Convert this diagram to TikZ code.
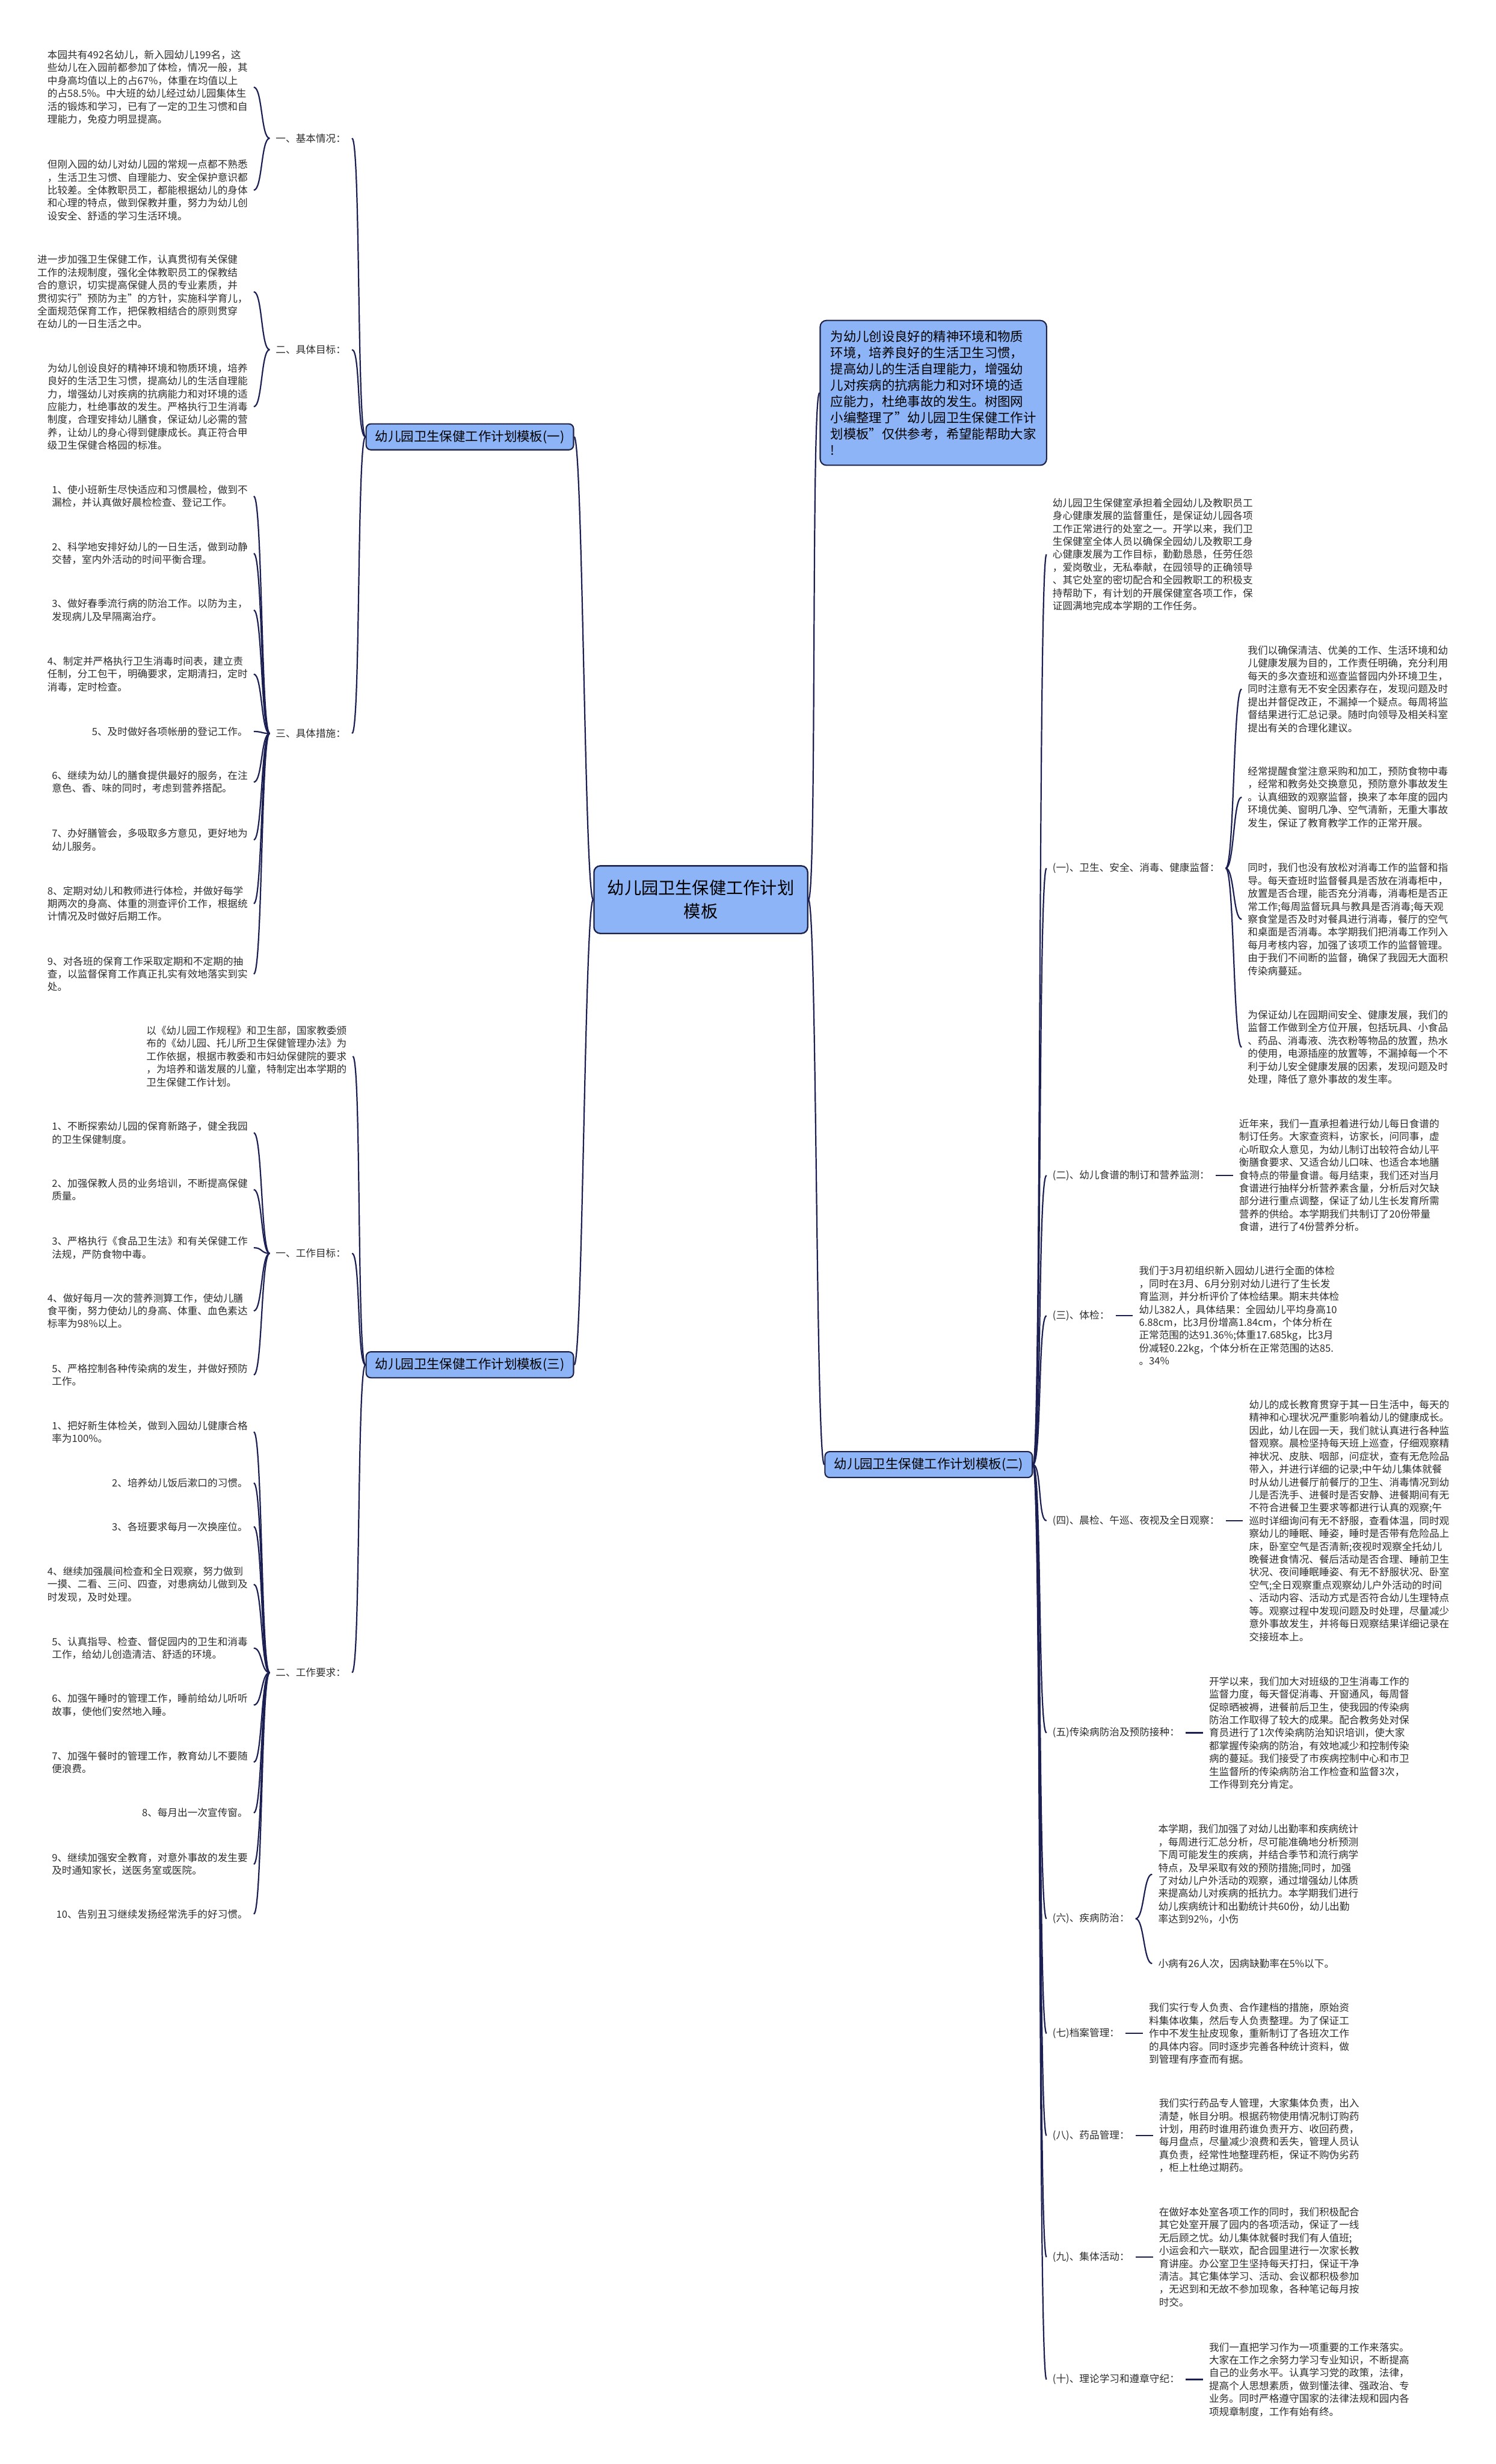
\documentclass[tikz,border=0pt]{standalone}
\usepackage{fontspec}
\setmainfont{Noto Sans CJK SC}
\usetikzlibrary{positioning}
\definecolor{linkcol}{HTML}{1B1F52}
\definecolor{boxfill}{HTML}{8DB4F7}
\definecolor{boxline}{HTML}{1E2246}
\definecolor{textcol}{HTML}{2E2E2E}
\begin{document}
\begin{tikzpicture}[
    x=1pt, y=-1pt,
    link/.style={draw=linkcol, line width=0.85pt},
    toleft/.style={out=180, in=0, distance=5.5pt},
    toright/.style={out=0, in=180, distance=5.5pt},
    rootbox/.style={draw=boxline, fill=boxfill, line width=0.9pt, rounded corners=4pt,
        minimum width=136pt, minimum height=43pt, align=center,
        font=\fontsize{10.8}{15}\selectfont},
    planbox/.style={draw=boxline, fill=boxfill, line width=0.8pt, rounded corners=3pt,
        minimum width=132pt, minimum height=16.5pt, inner sep=0pt,
        font=\fontsize{8.2}{10}\selectfont},
    introbox/.style={draw=boxline, fill=boxfill, line width=0.8pt, rounded corners=4pt,
        align=left, inner xsep=6.6pt, inner ysep=6.5pt,
        font=\fontsize{8.18}{10.3}\selectfont},
    sublabel/.style={text=textcol, inner sep=3.7pt, font=\fontsize{6.37}{8.2}\selectfont},
    lleaf/.style={sublabel, align=left, anchor=east},
    rleaf/.style={sublabel, align=left, anchor=west}
    ]

    \useasboundingbox (0,0) rectangle (952,1568);
    \fill[white] (0,0) rectangle (952,1568);

    \node[rootbox] (plan) at (446,572.5) {幼儿园卫生保健工作计划\\模板};
    \node[planbox] (plan1) at (299,278) {幼儿园卫生保健工作计划模板(一)};
    \node[planbox] (plan2) at (591,932) {幼儿园卫生保健工作计划模板(二)};
    \node[planbox] (plan3) at (299,868.5) {幼儿园卫生保健工作计划模板(三)};
    \node[introbox] (intro) at (594,250) {为幼儿创设良好的精神环境和物质\\环境，培养良好的生活卫生习惯，\\提高幼儿的生活自理能力，增强幼\\儿对疾病的抗病能力和对环境的适\\应能力，杜绝事故的发生。树图网\\小编整理了"幼儿园卫生保健工作计\\划模板"仅供参考，希望能帮助大家\\!};

    \node[sublabel, anchor=east] (basic) at (224,88) {一、基本情况：};
    \node[sublabel, anchor=east] (aims) at (224,222.5) {二、具体目标：};
    \node[sublabel, anchor=east] (steps) at (224,466.7) {三、具体措施：};

    \node[lleaf] (basic1) at (161.5,55.5) {本园共有492名幼儿，新入园幼儿199名，这\\些幼儿在入园前都参加了体检，情况一般，其\\中身高均值以上的占67\%，体重在均值以上\\的占58.5\%。中大班的幼儿经过幼儿园集体生\\活的锻炼和学习，已有了一定的卫生习惯和自\\理能力，免疫力明显提高。};
    \node[lleaf] (basic2) at (161.5,121) {但刚入园的幼儿对幼儿园的常规一点都不熟悉\\，生活卫生习惯、自理能力、安全保护意识都\\比较差。全体教职员工，都能根据幼儿的身体\\和心理的特点，做到保教并重，努力为幼儿创\\设安全、舒适的学习生活环境。};
    \node[lleaf] (aims1) at (161.5,185.7) {进一步加强卫生保健工作，认真贯彻有关保健\\工作的法规制度，强化全体教职员工的保教结\\合的意识，切实提高保健人员的专业素质，并\\贯彻实行"预防为主"的方针，实施科学育儿，\\全面规范保育工作，把保教相结合的原则贯穿\\在幼儿的一日生活之中。};
    \node[lleaf] (aims2) at (161.5,258.8) {为幼儿创设良好的精神环境和物质环境，培养\\良好的生活卫生习惯，提高幼儿的生活自理能\\力，增强幼儿对疾病的抗病能力和对环境的适\\应能力，杜绝事故的发生。严格执行卫生消毒\\制度，合理安排幼儿膳食，保证幼儿必需的营\\养，让幼儿的身心得到健康成长。真正符合甲\\级卫生保健合格园的标准。};
    \node[lleaf] (step1) at (161.5,315.8) {1、使小班新生尽快适应和习惯晨检，做到不\\漏检，并认真做好晨检检查、登记工作。};
    \node[lleaf] (step2) at (161.5,352.2) {2、科学地安排好幼儿的一日生活，做到动静\\交替，室内外活动的时间平衡合理。};
    \node[lleaf] (step3) at (161.5,388.3) {3、做好春季流行病的防治工作。以防为主，\\发现病儿及早隔离治疗。};
    \node[lleaf] (step4) at (161.5,429) {4、制定并严格执行卫生消毒时间表，建立责\\任制，分工包干，明确要求，定期清扫，定时\\消毒，定时检查。};
    \node[lleaf] (step5) at (161.5,465.5) {5、及时做好各项帐册的登记工作。};
    \node[lleaf] (step6) at (161.5,497.7) {6、继续为幼儿的膳食提供最好的服务，在注\\意色、香、味的同时，考虑到营养搭配。};
    \node[lleaf] (step7) at (161.5,534.4) {7、办好膳管会，多吸取多方意见，更好地为\\幼儿服务。};
    \node[lleaf] (step8) at (161.5,575) {8、定期对幼儿和教师进行体检，并做好每学\\期两次的身高、体重的测查评价工作，根据统\\计情况及时做好后期工作。};
    \node[lleaf] (step9) at (161.5,619.8) {9、对各班的保育工作采取定期和不定期的抽\\查，以监督保育工作真正扎实有效地落实到实\\处。};

    \node[lleaf] (basis) at (224.5,672.2) {以《幼儿园工作规程》和卫生部，国家教委颁\\布的《幼儿园、托儿所卫生保健管理办法》为\\工作依据，根据市教委和市妇幼保健院的要求\\，为培养和谐发展的儿童，特制定出本学期的\\卫生保健工作计划。};
    \node[sublabel, anchor=east] (goals) at (224,797.6) {一、工作目标：};
    \node[sublabel, anchor=east] (rules) at (224,1064.4) {二、工作要求：};

    \node[lleaf] (goal1) at (161.5,720.9) {1、不断探索幼儿园的保育新路子，健全我园\\的卫生保健制度。};
    \node[lleaf] (goal2) at (161.5,757) {2、加强保教人员的业务培训，不断提高保健\\质量。};
    \node[lleaf] (goal3) at (161.5,794) {3、严格执行《食品卫生法》和有关保健工作\\法规，严防食物中毒。};
    \node[lleaf] (goal4) at (161.5,834.2) {4、做好每月一次的营养测算工作，使幼儿膳\\食平衡，努力使幼儿的身高、体重、血色素达\\标率为98\%以上。};
    \node[lleaf] (goal5) at (161.5,874.9) {5、严格控制各种传染病的发生，并做好预防\\工作。};

    \node[lleaf] (rule1) at (161.5,911.2) {1、把好新生体检关，做到入园幼儿健康合格\\率为100\%。};
    \node[lleaf] (rule2) at (161.5,943.7) {2、培养幼儿饭后漱口的习惯。};
    \node[lleaf] (rule3) at (161.5,971.5) {3、各班要求每月一次换座位。};
    \node[lleaf] (rule4) at (161.5,1008.2) {4、继续加强晨间检查和全日观察，努力做到\\一摸、二看、三问、四查，对患病幼儿做到及\\时发现，及时处理。};
    \node[lleaf] (rule5) at (161.5,1048.8) {5、认真指导、检查、督促园内的卫生和消毒\\工作，给幼儿创造清洁、舒适的环境。};
    \node[lleaf] (rule6) at (161.5,1085) {6、加强午睡时的管理工作，睡前给幼儿听听\\故事，使他们安然地入睡。};
    \node[lleaf] (rule7) at (161.5,1121.4) {7、加强午餐时的管理工作，教育幼儿不要随\\便浪费。};
    \node[lleaf] (rule8) at (161.5,1153.6) {8、每月出一次宣传窗。};
    \node[lleaf] (rule9) at (161.5,1186.3) {9、继续加强安全教育，对意外事故的发生要\\及时通知家长，送医务室或医院。};
    \node[lleaf] (rule10) at (161.5,1218) {10、告别丑习继续发扬经常洗手的好习惯。};

    \node[rleaf] (duty) at (666,352.8) {幼儿园卫生保健室承担着全园幼儿及教职员工\\身心健康发展的监督重任，是保证幼儿园各项\\工作正常进行的处室之一。开学以来，我们卫\\生保健室全体人员以确保全园幼儿及教职工身\\心健康发展为工作目标，勤勤恳恳，任劳任怨\\，爱岗敬业，无私奉献，在园领导的正确领导\\、其它处室的密切配合和全园教职工的积极支\\持帮助下，有计划的开展保健室各项工作，保\\证圆满地完成本学期的工作任务。};

    \node[sublabel, anchor=west] (watch) at (666,552.5) {(一)、卫生、安全、消毒、健康监督：};
    \node[sublabel, anchor=west] (menu) at (666,748) {(二)、幼儿食谱的制订和营养监测：};
    \node[sublabel, anchor=west] (check) at (666,837.3) {(三)、体检：};
    \node[sublabel, anchor=west] (daily) at (666,967.7) {(四)、晨检、午巡、夜视及全日观察：};
    \node[sublabel, anchor=west] (infect) at (666,1102.7) {(五)传染病防治及预防接种：};
    \node[sublabel, anchor=west] (ill) at (666,1221) {(六)、疾病防治：};
    \node[sublabel, anchor=west] (files) at (666,1294) {(七)档案管理：};
    \node[sublabel, anchor=west] (drugs) at (666,1359) {(八)、药品管理：};
    \node[sublabel, anchor=west] (group) at (666,1436.3) {(九)、集体活动：};
    \node[sublabel, anchor=west] (study) at (666,1514.2) {(十)、理论学习和遵章守纪：};

    \node[rleaf] (watch1) at (790.2,438.5) {我们以确保清洁、优美的工作、生活环境和幼\\儿健康发展为目的，工作责任明确，充分利用\\每天的多次查班和巡查监督园内外环境卫生，\\同时注意有无不安全因素存在，发现问题及时\\提出并督促改正，不漏掉一个疑点。每周将监\\督结果进行汇总记录。随时向领导及相关科室\\提出有关的合理化建议。};
    \node[rleaf] (watch2) at (790.2,507.3) {经常提醒食堂注意采购和加工，预防食物中毒\\，经常和教务处交换意见，预防意外事故发生\\。认真细致的观察监督，换来了本年度的园内\\环境优美、窗明几净、空气清新，无重大事故\\发生，保证了教育教学工作的正常开展。};
    \node[rleaf] (watch3) at (790.2,585) {同时，我们也没有放松对消毒工作的监督和指\\导。每天查班时监督餐具是否放在消毒柜中，\\放置是否合理，能否充分消毒，消毒柜是否正\\常工作;每周监督玩具与教具是否消毒;每天观\\察食堂是否及时对餐具进行消毒，餐厅的空气\\和桌面是否消毒。本学期我们把消毒工作列入\\每月考核内容，加强了该项工作的监督管理。\\由于我们不间断的监督，确保了我园无大面积\\传染病蔓延。};
    \node[rleaf] (watch4) at (790.2,666.4) {为保证幼儿在园期间安全、健康发展，我们的\\监督工作做到全方位开展，包括玩具、小食品\\、药品、消毒液、洗衣粉等物品的放置，热水\\的使用，电源插座的放置等，不漏掉每一个不\\利于幼儿安全健康发展的因素，发现问题及时\\处理，降低了意外事故的发生率。};

    \node[rleaf, right=11pt of menu] (menu1) {近年来，我们一直承担着进行幼儿每日食谱的\\制订任务。大家查资料，访家长，问同事，虚\\心听取众人意见，为幼儿制订出较符合幼儿平\\衡膳食要求、又适合幼儿口味、也适合本地膳\\食特点的带量食谱。每月结束，我们还对当月\\食谱进行抽样分析营养素含量，分析后对欠缺\\部分进行重点调整，保证了幼儿生长发育所需\\营养的供给。本学期我们共制订了20份带量\\食谱，进行了4份营养分析。};
    \node[rleaf, right=11pt of check] (check1) {我们于3月初组织新入园幼儿进行全面的体检\\，同时在3月、6月分别对幼儿进行了生长发\\育监测，并分析评价了体检结果。期末共体检\\幼儿382人，具体结果：全园幼儿平均身高10\\6.88cm，比3月份增高1.84cm，个体分析在\\正常范围的达91.36\%;体重17.685kg，比3月\\份减轻0.22kg，个体分析在正常范围的达85.\\。34\%};
    \node[rleaf, right=11pt of daily] (daily1) {幼儿的成长教育贯穿于其一日生活中，每天的\\精神和心理状况严重影响着幼儿的健康成长。\\因此，幼儿在园一天，我们就认真进行各种监\\督观察。晨检坚持每天班上巡查，仔细观察精\\神状况、皮肤、咽部，问症状，查有无危险品\\带入，并进行详细的记录;中午幼儿集体就餐\\时从幼儿进餐厅前餐厅的卫生、消毒情况到幼\\儿是否洗手、进餐时是否安静、进餐期间有无\\不符合进餐卫生要求等都进行认真的观察;午\\巡时详细询问有无不舒服，查看体温，同时观\\察幼儿的睡眠、睡姿，睡时是否带有危险品上\\床，卧室空气是否清新;夜视时观察全托幼儿\\晚餐进食情况、餐后活动是否合理、睡前卫生\\状况、夜间睡眠睡姿、有无不舒服状况、卧室\\空气;全日观察重点观察幼儿户外活动的时间\\、活动内容、活动方式是否符合幼儿生理特点\\等。观察过程中发现问题及时处理，尽量减少\\意外事故发生，并将每日观察结果详细记录在\\交接班本上。};
    \node[rleaf, right=11pt of infect] (infect1) {开学以来，我们加大对班级的卫生消毒工作的\\监督力度，每天督促消毒、开窗通风，每周督\\促晾晒被褥，进餐前后卫生，使我园的传染病\\防治工作取得了较大的成果。配合教务处对保\\育员进行了1次传染病防治知识培训，使大家\\都掌握传染病的防治，有效地减少和控制传染\\病的蔓延。我们接受了市疾病控制中心和市卫\\生监督所的传染病防治工作检查和监督3次，\\工作得到充分肯定。};
    \node[rleaf] (ill1) at (733.2,1192.7) {本学期，我们加强了对幼儿出勤率和疾病统计\\，每周进行汇总分析，尽可能准确地分析预测\\下周可能发生的疾病，并结合季节和流行病学\\特点，及早采取有效的预防措施;同时，加强\\了对幼儿户外活动的观察，通过增强幼儿体质\\来提高幼儿对疾病的抵抗力。本学期我们进行\\幼儿疾病统计和出勤统计共60份，幼儿出勤\\率达到92\%，小伤};
    \node[rleaf] (ill2) at (733.2,1249.5) {小病有26人次，因病缺勤率在5\%以下。};
    \node[rleaf, right=11pt of files] (files1) {我们实行专人负责、合作建档的措施，原始资\\料集体收集，然后专人负责整理。为了保证工\\作中不发生扯皮现象，重新制订了各班次工作\\的具体内容。同时逐步完善各种统计资料，做\\到管理有序查而有据。};
    \node[rleaf, right=11pt of drugs] (drugs1) {我们实行药品专人管理，大家集体负责，出入\\清楚，帐目分明。根据药物使用情况制订购药\\计划，用药时谁用药谁负责开方、收回药费，\\每月盘点，尽量减少浪费和丢失，管理人员认\\真负责，经常性地整理药柜，保证不购伪劣药\\，柜上杜绝过期药。};
    \node[rleaf, right=11pt of group] (group1) {在做好本处室各项工作的同时，我们积极配合\\其它处室开展了园内的各项活动，保证了一线\\无后顾之忧。幼儿集体就餐时我们有人值班;\\小运会和六一联欢，配合园里进行一次家长教\\育讲座。办公室卫生坚持每天打扫，保证干净\\清洁。其它集体学习、活动、会议都积极参加\\，无迟到和无故不参加现象，各种笔记每月按\\时交。};
    \node[rleaf, right=11pt of study] (study1) {我们一直把学习作为一项重要的工作来落实。\\大家在工作之余努力学习专业知识，不断提高\\自己的业务水平。认真学习党的政策，法律，\\提高个人思想素质，做到懂法律、强政治、专\\业务。同时严格遵守国家的法律法规和园内各\\项规章制度，工作有始有终。};

    \draw[link] (plan.west) to[toleft] (plan1.east);
    \draw[link] (plan.west) to[toleft] (plan3.east);
    \draw[link] (plan.east) to[toright] (intro.west);
    \draw[link] (plan.east) to[toright] (plan2.west);

    \draw[link] (plan1.west) to[toleft] (basic.east);
    \draw[link] (plan1.west) to[toleft] (aims.east);
    \draw[link] (plan1.west) to[toleft] (steps.east);
    \draw[link] (basic.west) to[toleft] (basic1.east);
    \draw[link] (basic.west) to[toleft] (basic2.east);
    \draw[link] (aims.west) to[toleft] (aims1.east);
    \draw[link] (aims.west) to[toleft] (aims2.east);
    \draw[link] (steps.west) to[toleft] (step1.east);
    \draw[link] (steps.west) to[toleft] (step2.east);
    \draw[link] (steps.west) to[toleft] (step3.east);
    \draw[link] (steps.west) to[toleft] (step4.east);
    \draw[link] (steps.west) to[toleft] (step5.east);
    \draw[link] (steps.west) to[toleft] (step6.east);
    \draw[link] (steps.west) to[toleft] (step7.east);
    \draw[link] (steps.west) to[toleft] (step8.east);
    \draw[link] (steps.west) to[toleft] (step9.east);

    \draw[link] (plan3.west) to[toleft] (basis.east);
    \draw[link] (plan3.west) to[toleft] (goals.east);
    \draw[link] (plan3.west) to[toleft] (rules.east);
    \draw[link] (goals.west) to[toleft] (goal1.east);
    \draw[link] (goals.west) to[toleft] (goal2.east);
    \draw[link] (goals.west) to[toleft] (goal3.east);
    \draw[link] (goals.west) to[toleft] (goal4.east);
    \draw[link] (goals.west) to[toleft] (goal5.east);
    \draw[link] (rules.west) to[toleft] (rule1.east);
    \draw[link] (rules.west) to[toleft] (rule2.east);
    \draw[link] (rules.west) to[toleft] (rule3.east);
    \draw[link] (rules.west) to[toleft] (rule4.east);
    \draw[link] (rules.west) to[toleft] (rule5.east);
    \draw[link] (rules.west) to[toleft] (rule6.east);
    \draw[link] (rules.west) to[toleft] (rule7.east);
    \draw[link] (rules.west) to[toleft] (rule8.east);
    \draw[link] (rules.west) to[toleft] (rule9.east);
    \draw[link] (rules.west) to[toleft] (rule10.east);

    \draw[link] (plan2.east) to[toright] (duty.west);
    \draw[link] (plan2.east) to[toright] (watch.west);
    \draw[link] (plan2.east) to[toright] (menu.west);
    \draw[link] (plan2.east) to[toright] (check.west);
    \draw[link] (plan2.east) to[toright] (daily.west);
    \draw[link] (plan2.east) to[toright] (infect.west);
    \draw[link] (plan2.east) to[toright] (ill.west);
    \draw[link] (plan2.east) to[toright] (files.west);
    \draw[link] (plan2.east) to[toright] (drugs.west);
    \draw[link] (plan2.east) to[toright] (group.west);
    \draw[link] (plan2.east) to[toright] (study.west);
    \draw[link] (watch.east) to[toright] (watch1.west);
    \draw[link] (watch.east) to[toright] (watch2.west);
    \draw[link] (watch.east) to[toright] (watch3.west);
    \draw[link] (watch.east) to[toright] (watch4.west);
    \draw[link] (menu) -- (menu1);
    \draw[link] (check) -- (check1);
    \draw[link] (daily) -- (daily1);
    \draw[link] (infect) -- (infect1);
    \draw[link] (ill.east) to[toright] (ill1.west);
    \draw[link] (ill.east) to[toright] (ill2.west);
    \draw[link] (files) -- (files1);
    \draw[link] (drugs) -- (drugs1);
    \draw[link] (group) -- (group1);
    \draw[link] (study) -- (study1);

\end{tikzpicture}
\end{document}
